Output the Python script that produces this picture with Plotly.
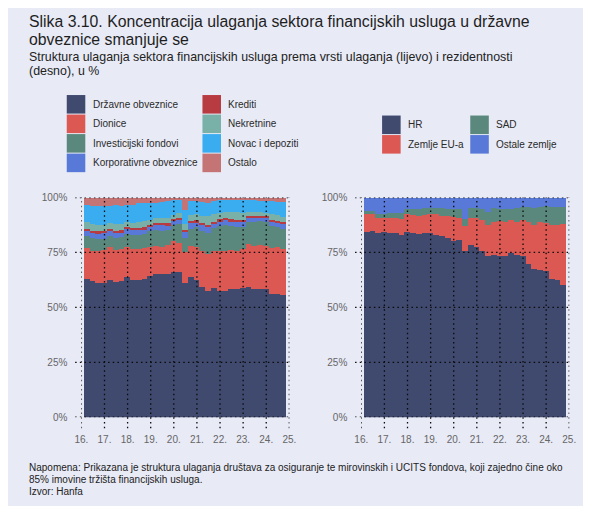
import plotly.graph_objects as go

# ---------------- data ----------------
quarters = [f"{y}Q{q}" for y in range(2016, 2025) for q in range(1, 5)][:35]

# left panel: structure by type of investment (%)
drzavne = [63.1, 62.4, 61.2, 61.5, 62.9, 61.6, 62.3, 64.0, 62.9, 62.8, 63.0, 64.5, 65.4, 65.4, 65.5, 66.2, 66.3, 61.3,
           63.9, 62.7, 59.4, 57.8, 59.1, 57.8, 57.8, 58.5, 58.7, 59.0, 59.6, 58.4, 58.7, 58.7, 56.3, 56.3, 56.0]
dionice = [14.1, 13.6, 14.8, 14.9, 14.9, 14.7, 14.3, 13.8, 13.7, 13.8, 14.2, 13.3, 12.8, 12.5, 13.2, 14.2, 13.4, 14.0,
           14.3, 15.1, 16.6, 16.7, 16.9, 18.2, 18.2, 17.8, 17.3, 17.7, 19.4, 19.8, 20.0, 19.5, 20.9, 21.2, 21.0]
investicijski = [5.5, 5.6, 5.2, 5.1, 4.9, 5.6, 5.6, 5.6, 6.4, 6.4, 6.5, 7.1, 7.3, 7.3, 6.9, 7.5, 8.5, 6.6,
                 7.9, 8.9, 9.2, 9.6, 10.4, 11.1, 11.9, 10.8, 10.7, 10.0, 10.3, 10.8, 10.7, 10.8, 9.9, 9.2, 9.1]
korporativne = [2.2, 2.5, 2.6, 2.4, 2.3, 2.2, 2.2, 2.3, 2.3, 2.3, 2.1, 2.0, 2.1, 2.3, 2.1, 1.7, 1.9, 2.5,
                2.5, 2.2, 2.4, 2.6, 1.9, 2.2, 1.9, 2.2, 2.3, 2.3, 1.8, 1.9, 1.8, 1.9, 2.1, 2.2, 2.3]
krediti = [1.2, 1.1, 1.1, 1.3, 1.1, 1.1, 0.9, 1.0, 1.1, 1.1, 0.9, 1.0, 1.0, 1.1, 0.9, 0.9, 1.0, 1.2,
           1.0, 0.9, 1.0, 1.2, 1.0, 1.1, 1.0, 1.2, 1.1, 1.1, 0.7, 0.8, 0.7, 0.8, 0.8, 0.8, 0.9]
nekretnine = [3.2, 2.9, 3.0, 2.7, 2.5, 2.9, 3.0, 2.3, 2.2, 2.5, 2.9, 2.2, 2.5, 2.3, 2.5, 1.8, 1.9, 2.7,
              2.7, 2.8, 3.4, 3.7, 3.3, 2.6, 2.7, 3.0, 3.4, 2.9, 1.9, 1.8, 1.6, 1.6, 2.6, 2.5, 2.2]
novac = [7.4, 8.3, 8.5, 8.5, 7.8, 8.6, 8.1, 7.7, 8.4, 8.6, 7.9, 7.7, 6.8, 7.3, 7.4, 6.7, 6.0, 6.2,
         6.2, 5.9, 6.2, 6.3, 5.9, 6.0, 5.9, 5.9, 5.9, 6.4, 5.7, 5.5, 5.0, 5.5, 5.9, 6.1, 6.5]
ostalo = [3.3, 3.6, 3.6, 3.6, 3.6, 3.3, 3.6, 3.3, 3.0, 2.5, 2.5, 2.2, 2.1, 1.8, 1.5, 1.0, 1.0, 5.5,
          1.5, 1.5, 1.8, 2.1, 1.5, 1.0, 0.6, 0.6, 0.6, 0.6, 0.6, 1.0, 1.5, 1.2, 1.5, 1.7, 2.0]

# right panel: structure by residency (%)
hr = [84.4, 84.9, 84.0, 84.3, 84.1, 84.1, 83.3, 84.6, 83.9, 83.6, 84.0, 84.2, 83.2, 82.8, 81.9, 80.3, 80.8, 76.0,
      78.8, 77.7, 76.0, 73.8, 74.2, 73.6, 73.8, 75.1, 74.2, 73.4, 70.0, 67.6, 67.3, 66.8, 63.1, 62.7, 60.5]
eu = [8.3, 7.6, 6.9, 6.6, 6.8, 6.8, 7.2, 8.1, 8.4, 8.2, 8.3, 8.5, 9.3, 9.1, 9.9, 11.2, 10.0, 11.1,
      12.0, 13.1, 13.8, 14.1, 15.1, 16.0, 15.5, 14.7, 15.1, 16.7, 18.9, 20.3, 21.6, 21.8, 24.8, 25.2, 27.8]
sad = [1.4, 1.7, 2.0, 2.0, 2.4, 2.4, 2.6, 2.3, 2.7, 3.0, 3.0, 2.6, 3.0, 3.6, 3.2, 3.3, 4.0, 3.5,
       4.7, 4.7, 5.2, 5.9, 6.0, 5.4, 5.7, 5.2, 6.0, 5.9, 6.8, 7.4, 7.1, 7.7, 7.8, 8.1, 7.7]
ostale = [5.9, 5.8, 7.1, 7.1, 6.7, 6.7, 6.9, 5.0, 5.0, 5.2, 4.7, 4.7, 4.5, 4.5, 5.0, 5.2, 5.2, 9.4,
          4.5, 4.5, 5.0, 6.2, 4.7, 5.0, 5.0, 5.0, 4.7, 4.0, 4.3, 4.7, 4.0, 3.7, 4.3, 4.0, 4.0]

year_ticks = [2016, 2017, 2018, 2019, 2020, 2021, 2022, 2023, 2024, 2025]
year_labels = ["16.", "17.", "18.", "19.", "20.", "21.", "22.", "23.", "24.", "25."]
y_ticks = [0, 25, 50, 75, 100]
y_labels = ["0%", "25%", "50%", "75%", "100%"]

left_series = [
    ("Državne obveznice", drzavne, "#404a6f"),
    ("Dionice", dionice, "#dc5853"),
    ("Investicijski fondovi", investicijski, "#5a887c"),
    ("Korporativne obveznice", korporativne, "#5879d8"),
    ("Krediti", krediti, "#b73b41"),
    ("Nekretnine", nekretnine, "#79b1a9"),
    ("Novac i depoziti", novac, "#39adef"),
    ("Ostalo", ostalo, "#c47474"),
]
right_series = [
    ("HR", hr, "#404a6f"),
    ("Zemlje EU-a", eu, "#dc5853"),
    ("SAD", sad, "#5a887c"),
    ("Ostale zemlje", ostale, "#5879d8"),
]

# quarter positions on a numeric year axis
xpos = [int(q[:4]) + int(q[-1]) * 0.25 for q in quarters]

# ---------------- figure ----------------
W, H = 591, 506
OFF = 8  # page margin in which the figure sits
BG = "#e8eaf6"
FONT = "Liberation Sans, Arial, sans-serif"


def fx(p):
    return (p - OFF) / W


def fy(p):
    return 1 - (p - OFF) / H


fig = go.Figure()
for name, vals, col in left_series:
    fig.add_trace(go.Bar(x=xpos, y=vals, name=name, marker=dict(color=col, line=dict(width=0)),
                         width=0.25, xaxis="x", yaxis="y", showlegend=False))
for name, vals, col in right_series:
    fig.add_trace(go.Bar(x=xpos, y=vals, name=name, marker=dict(color=col, line=dict(width=0)),
                         width=0.25, xaxis="x2", yaxis="y2", showlegend=False))

ydom = [fy(421), fy(196)]
axis_common = dict(range=[2016, 2025], tickvals=year_ticks, ticktext=year_labels, showgrid=False,
                   zeroline=False, showline=False, ticks="outside", ticklen=13, tickcolor="rgba(0,0,0,0)",
                   tickfont=dict(family=FONT, size=10, color="#666666"), fixedrange=True)
yaxis_common = dict(range=[0, 100], tickvals=y_ticks, ticktext=y_labels, showgrid=False, zeroline=False,
                    showline=False, ticks="outside", ticklen=11, tickcolor="rgba(0,0,0,0)",
                    tickfont=dict(family=FONT, size=10, color="#666666"), domain=ydom, fixedrange=True)

fig.update_layout(
    width=W, height=H, autosize=False,
    margin=dict(l=0, r=0, t=0, b=0),
    paper_bgcolor=BG, plot_bgcolor=BG,
    barmode="stack", bargap=0,
    showlegend=False,
    xaxis=dict(domain=[fx(76), fx(289)], anchor="y", **axis_common),
    xaxis2=dict(domain=[fx(362.7), fx(575.7)], anchor="y2", **axis_common),
    yaxis=dict(anchor="x", **yaxis_common),
    yaxis2=dict(anchor="x2", **yaxis_common),
)

shapes = []
# dotted grid lines drawn above bars
dot = dict(color="#0a0a0a", width=1.3, dash="1.5px,3.2px")
for xr, yr in (("x", "y"), ("x2", "y2")):
    for yt in year_ticks:
        shapes.append(dict(type="line", xref=xr, yref=f"{yr} domain", x0=yt, x1=yt, y0=-0.05, y1=1.0,
                           line=dot, layer="above"))
    for v in y_ticks:
        shapes.append(dict(type="line", xref=f"{xr} domain", yref=yr, x0=-0.03, x1=1.0, y0=v, y1=v,
                           line=dot, layer="above"))

annotations = []


def text(x, y, s, size, color="#222222"):
    annotations.append(dict(x=fx(x), y=fy(y), xref="paper", yref="paper", xanchor="left", yanchor="middle",
                            text=s, showarrow=False, borderpad=0,
                            font=dict(family=FONT, size=size, color=color)))


# titles
text(21, 15.5, "Slika 3.10. Koncentracija ulaganja sektora financijskih usluga u državne", 15.8, "#1e1e1e")
text(21, 34, "obveznice smanjuje se", 15.8, "#1e1e1e")
text(21, 52, "Struktura ulaganja sektora financijskih usluga prema vrsti ulaganja (lijevo) i rezidentnosti", 12.4, "#222")
text(21, 66.6, "(desno), u %", 12.4, "#222")

# footnotes
text(21, 473, "Napomena: Prikazana je struktura ulaganja društava za osiguranje te mirovinskih i UCITS fondova, koji zajedno čine oko", 10)
text(21, 484.8, "85% imovine tržišta financijskih usluga.", 10)
text(21, 496.6, "Izvor: Hanfa", 10)

# manual legends with large swatches
left_cols = [(61, 86.7), (200, 225.6)]
left_rows = [91, 111, 131, 151]
for i, (name, _, col) in enumerate(left_series):
    c, r = divmod(i, 4)
    x0, tx = left_cols[c]
    y0 = left_rows[r]
    shapes.append(dict(type="rect", xref="paper", yref="paper", x0=fx(x0), x1=fx(x0 + 19), y0=fy(y0 + 19),
                       y1=fy(y0), fillcolor=col, line=dict(width=0)))
    text(tx, y0 + 9.5, name, 10, "#2a2a2a")

right_cols = [(384, 410), (474.3, 500)]
right_rows = [112, 132]
for i, (name, _, col) in enumerate(right_series):
    c, r = divmod(i, 2)
    x0, tx = right_cols[c]
    y0 = right_rows[r]
    shapes.append(dict(type="rect", xref="paper", yref="paper", x0=fx(x0), x1=fx(x0 + 19), y0=fy(y0 + 19),
                       y1=fy(y0), fillcolor=col, line=dict(width=0)))
    text(tx, y0 + 9.5, name, 10, "#2a2a2a")

fig.update_layout(shapes=shapes, annotations=annotations)
fig.write_html("out.html")
